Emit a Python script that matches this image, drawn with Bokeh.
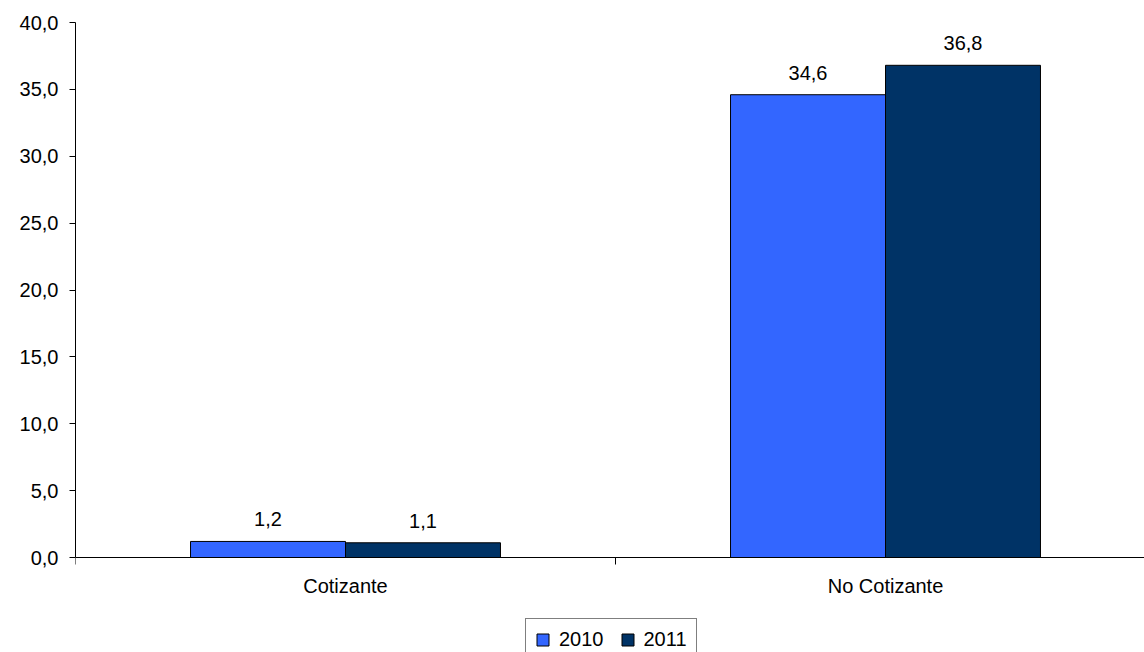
from bokeh.plotting import figure
from bokeh.models import (ColumnDataSource, Range1d, FixedTicker, CustomJSTickFormatter,
                          Legend, LegendItem)
from bokeh.embed import file_html
from bokeh.resources import INLINE
from bokeh.core.properties import value

categories = ["Cotizante", "No Cotizante"]
series_names = ["2010", "2011"]
values_2010 = [1.2, 34.6]
values_2011 = [1.1, 36.8]
colors = ["#3366FF", "#003366"]
y_ticks = [0, 5, 10, 15, 20, 25, 30, 35, 40]

FONT = "Liberation Sans"
FS = "20px"

centers = [i + 0.5 for i in range(len(categories))]
bar_w = 0.287

px_per_unit = 535 / 40
p = figure(frame_width=1069, frame_height=630, output_backend="svg", toolbar_location=None,
           x_range=Range1d(0, 1069 / 540), y_range=Range1d(-95 / px_per_unit, 40),
           min_border_left=75, min_border_top=22, min_border_right=0, min_border_bottom=0)
p.xgrid.visible = False
p.ygrid.visible = False
p.outline_line_color = None
p.background_fill_color = "white"
p.border_fill_color = "white"

renderers = []
for k, (name, vals, col) in enumerate(zip(series_names, [values_2010, values_2011], colors)):
    off = (k - 0.5) * bar_w
    xs = [c + off for c in centers]
    src = ColumnDataSource(dict(x=xs, top=vals,
                                lab=[f"{v:.1f}".replace(".", ",") for v in vals]))
    r = p.vbar(x="x", top="top", bottom=0, width=bar_w, source=src, fill_color=col,
               line_color="black", line_width=1)
    renderers.append((name, r))
    p.text(x="x", y="top", text="lab", source=src, text_align="center",
           text_baseline="alphabetic", y_offset=-22, text_font=value(FONT),
           text_font_size=FS, text_color="black")

# axes
p.yaxis.ticker = FixedTicker(ticks=y_ticks)
p.yaxis.bounds = (0, 40)
p.yaxis.formatter = CustomJSTickFormatter(code="return tick.toFixed(1).replace('.', ',');")
p.yaxis.major_tick_out = 6
p.yaxis.major_tick_in = 0
p.yaxis.minor_tick_out = 0
p.yaxis.minor_tick_in = 0
p.yaxis.axis_line_color = "black"
p.yaxis.major_tick_line_color = "black"
p.yaxis.major_label_text_font = FONT
p.yaxis.major_label_text_font_size = FS
p.yaxis.major_label_text_color = "black"
p.yaxis.major_label_standoff = 11

p.xaxis.fixed_location = 0
p.xaxis.ticker = FixedTicker(ticks=centers, minor_ticks=[0, 1, 2])
p.xaxis.major_label_overrides = {c: n for c, n in zip(centers, categories)}
p.xaxis.major_tick_out = 0
p.xaxis.major_tick_in = 0
p.xaxis.minor_tick_out = 7
p.xaxis.minor_tick_in = 0
p.xaxis.minor_tick_line_color = "black"
p.xaxis.axis_line_color = "black"
p.xaxis.major_label_text_font = FONT
p.xaxis.major_label_text_font_size = FS
p.xaxis.major_label_text_color = "black"
p.xaxis.major_label_standoff = 10

legend = Legend(items=[LegendItem(label=n, renderers=[r]) for n, r in renderers],
                orientation="horizontal", location=(450, -9),
                label_text_font=FONT, label_text_font_size=FS, label_text_color="black",
                glyph_width=15, glyph_height=15, label_standoff=9, spacing=16,
                padding=9, margin=0, border_line_color="black", border_line_width=1,
                background_fill_alpha=1.0)
p.add_layout(legend)

open("out.html", "w").write(file_html(p, INLINE))
